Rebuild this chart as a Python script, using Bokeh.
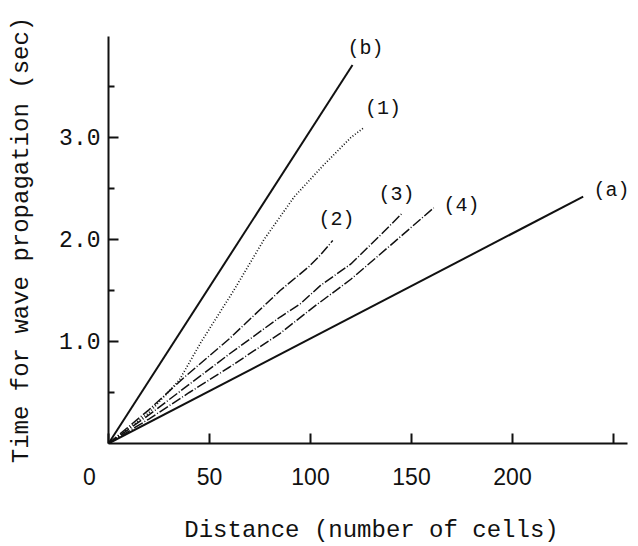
from bokeh.plotting import figure
from bokeh.models import Range1d, FixedTicker
from bokeh.core.properties import value
from bokeh.embed import file_html
from bokeh.resources import INLINE

# ---- data ----
a_x = [0, 235]
a_y = [0, 2.42]
b_x = [0, 120.8]
b_y = [0, 3.71]
c1_x = [0, 20, 35, 46, 62, 77, 92, 106, 120, 126]
c1_y = [0, 0.30, 0.62, 1.00, 1.50, 2.00, 2.42, 2.72, 3.00, 3.09]
c2_x = [0, 20, 37, 60, 85, 99, 105, 111]
c2_y = [0, 0.33, 0.64, 1.03, 1.50, 1.73, 1.85, 1.99]
c3_x = [0, 20, 40, 60, 85, 95, 105, 120, 135, 145]
c3_y = [0, 0.28, 0.58, 0.88, 1.24, 1.37, 1.55, 1.76, 2.05, 2.25]
c4_x = [0, 20, 40, 60, 85, 101, 120, 140, 161]
c4_y = [0, 0.24, 0.50, 0.75, 1.08, 1.33, 1.61, 1.95, 2.31]

curve_labels = ["(b)", "(1)", "(2)", "(3)", "(4)", "(a)"]
label_x = [127.2, 135.9, 112.9, 142.6, 174.8, 249.0]
label_y = [3.87, 3.28, 2.20, 2.44, 2.33, 2.48]

x_ticks = [0, 50, 100, 150, 200, 250]
# the "0" is set left of the corner: padded with no-break spaces
x_tick_labels = ["0" + "\u00a0" * 6, "50", "100", "150", "200", ""]
y_ticks = [1, 2, 3]
y_tick_labels = ["1.0", "2.0", "3.0"]
y_minor_ticks = [0.5, 1.5, 2.5, 3.5]

INK = "#111111"
MONO = "Liberation Mono"

p = figure(width=638, height=546, output_backend="svg", toolbar_location=None,
           x_range=Range1d(0, 260.4), y_range=Range1d(0, 3.99),
           min_border_left=108, min_border_right=4, min_border_top=36,
           min_border_bottom=103)
p.background_fill_color = "white"
p.border_fill_color = "white"
p.outline_line_color = None
p.grid.visible = False

# lines
p.line(a_x, a_y, line_color=INK, line_width=2)
p.line(b_x, b_y, line_color=INK, line_width=2)
p.line(c1_x, c1_y, line_color=INK, line_width=1.7, line_dash="1 2")
for xs, ys in [(c2_x, c2_y), (c3_x, c3_y), (c4_x, c4_y)]:
    p.line(xs, ys, line_color=INK, line_width=1.5, line_dash="10 2 1 2")

p.text(x=label_x, y=label_y, text=curve_labels, text_font=value(MONO),
       text_font_size="20px", text_align="center", text_baseline="middle",
       text_color=INK)

# x axis
xa = p.xaxis[0]
xa.ticker = FixedTicker(ticks=x_ticks, minor_ticks=[])
xa.major_label_overrides = {t: l for t, l in zip(x_ticks, x_tick_labels)}
xa.bounds = (0, 257)
xa.axis_line_width = 2
xa.axis_line_color = INK
xa.major_tick_in = 10
xa.major_tick_out = 0
xa.major_tick_line_width = 2
xa.major_tick_line_color = INK
xa.minor_tick_line_color = None
xa.major_label_standoff = 20
xa.major_label_text_font = "Liberation Sans"
xa.major_label_text_font_size = "23px"
xa.major_label_text_color = INK
xa.axis_label = "Distance (number of cells)"
xa.axis_label_text_font = MONO
xa.axis_label_text_font_size = "24px"
xa.axis_label_text_font_style = "normal"
xa.axis_label_text_color = INK
xa.axis_label_standoff = 24

# y axis
ya = p.yaxis[0]
ya.ticker = FixedTicker(ticks=y_ticks, minor_ticks=y_minor_ticks)
ya.major_label_overrides = {t: l for t, l in zip(y_ticks, y_tick_labels)}
ya.bounds = (0, 3.99)
ya.axis_line_width = 2
ya.axis_line_color = INK
ya.major_tick_in = 10
ya.major_tick_out = 0
ya.minor_tick_in = 6
ya.minor_tick_out = 0
ya.major_tick_line_width = 2
ya.minor_tick_line_width = 2
ya.major_tick_line_color = INK
ya.minor_tick_line_color = INK
ya.major_label_standoff = 8
ya.major_label_text_font = MONO
ya.major_label_text_font_size = "23px"
ya.major_label_text_color = INK
ya.axis_label = "Time for wave propagation (sec)"
ya.axis_label_text_font = MONO
ya.axis_label_text_font_size = "24px"
ya.axis_label_text_font_style = "normal"
ya.axis_label_text_color = INK
ya.axis_label_standoff = 21

open("out.html", "w").write(file_html(p, INLINE))
